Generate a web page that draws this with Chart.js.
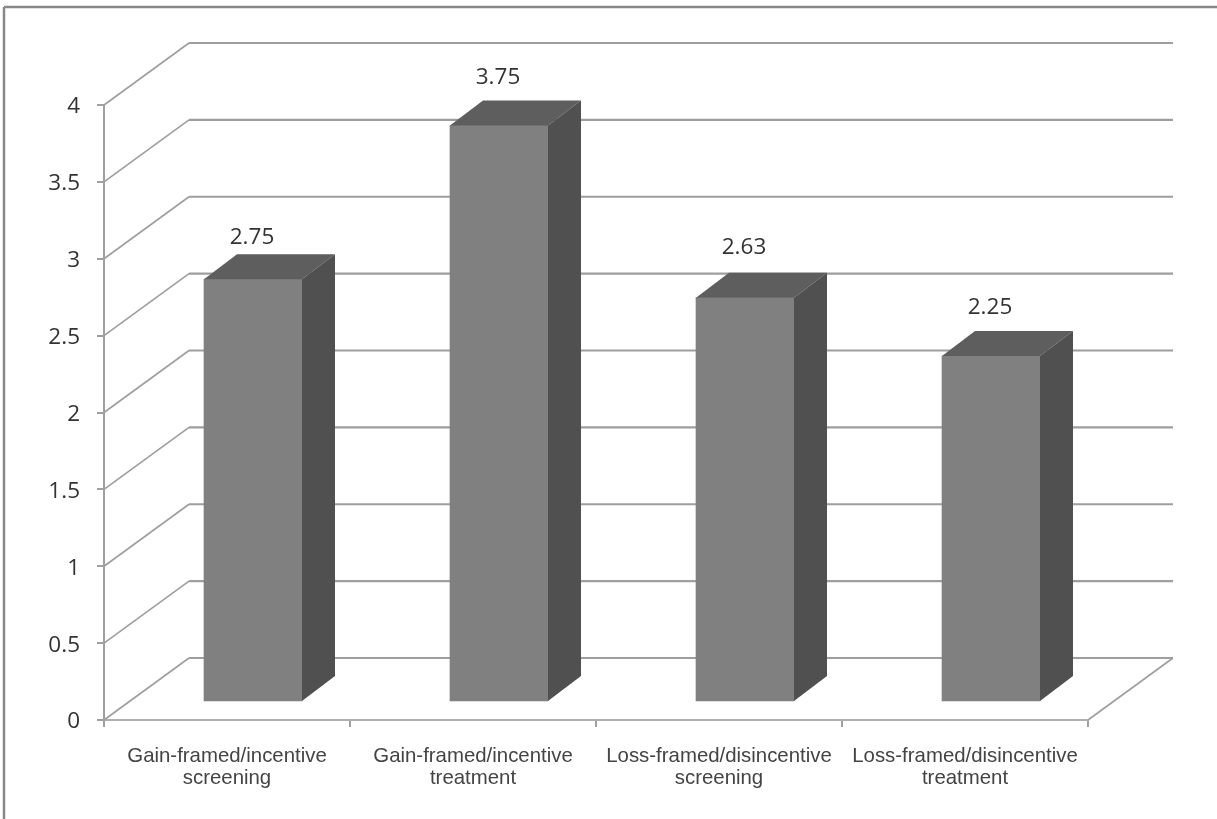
<!DOCTYPE html>
<html>
<head>
<meta charset="utf-8">
<title>Bar chart</title>
<script src="https://cdn.jsdelivr.net/npm/chart.js@4"></script>
<style>
  body { margin: 0; background: #fff; }
  canvas { display: block; }
</style>
</head>
<body>
<canvas id="chart" width="1217" height="819"></canvas>
<script>
var categories = [
    ["Gain-framed/incentive", "screening"],
    ["Gain-framed/incentive", "treatment"],
    ["Loss-framed/disincentive", "screening"],
    ["Loss-framed/disincentive", "treatment"]
];
var values = [2.75, 3.75, 2.63, 2.25];
var valueLabels = ["2.75", "3.75", "2.63", "2.25"];
var axisTicks = [0, 0.5, 1, 1.5, 2, 2.5, 3, 3.5, 4];

// pseudo 3d depth, in pixels
const WALL_DX = 85, WALL_DY = 62;
const BAR_SHIFT_X = 26, BAR_SHIFT_Y = 18;
const BAR_DX = 33, BAR_DY = 25;
const LABEL_LIFT = [42, 48, 50, 48];

function line(ctx, x1, y1, x2, y2) {
    ctx.beginPath();
    ctx.moveTo(x1, y1);
    ctx.lineTo(x2, y2);
    ctx.stroke();
}

function face(ctx, points, color) {
    ctx.fillStyle = color;
    ctx.beginPath();
    ctx.moveTo(points[0][0], points[0][1]);
    for (var p of points.slice(1)) {
        ctx.lineTo(p[0], p[1]);
    }
    ctx.closePath();
    ctx.fill();
}

const box3d = {
    id: 'box3d',
    beforeDraw(chart) {
        const ctx = chart.ctx;
        ctx.save();
        ctx.fillStyle = '#ffffff';
        ctx.fillRect(0, 0, chart.width, chart.height);
        // outer frame, only top and left show
        ctx.strokeStyle = '#888888';
        ctx.lineWidth = 2.5;
        line(ctx, 4, chart.height, 4, 7);
        line(ctx, 4, 7, chart.width, 7);
        ctx.restore();
    },
    beforeDatasetsDraw(chart) {
        const ctx = chart.ctx;
        const area = chart.chartArea;
        const y = chart.scales.y;
        ctx.save();
        ctx.strokeStyle = '#9e9e9e';
        for (var v of axisTicks) {
            const py = y.getPixelForValue(v);
            ctx.lineWidth = 1.6;
            line(ctx, area.left, py, area.left + WALL_DX, py - WALL_DY);
            ctx.lineWidth = 2.2;
            line(ctx, area.left + WALL_DX, py - WALL_DY, area.right + WALL_DX, py - WALL_DY);
        }
        // right edge of the floor
        ctx.lineWidth = 1.6;
        line(ctx, area.right, area.bottom, area.right + WALL_DX, area.bottom - WALL_DY);
        ctx.restore();

        // bars sit part way back on the floor
        ctx.save();
        ctx.translate(BAR_SHIFT_X, -BAR_SHIFT_Y);
    },
    afterDatasetsDraw(chart) {
        const ctx = chart.ctx;
        ctx.restore();
        ctx.save();
        chart.getDatasetMeta(0).data.forEach(function (bar, i) {
            const left = bar.x - bar.width / 2 + BAR_SHIFT_X;
            const right = bar.x + bar.width / 2 + BAR_SHIFT_X;
            const top = bar.y - BAR_SHIFT_Y;
            const bottom = bar.base - BAR_SHIFT_Y;
            face(ctx, [[left, top], [right, top], [right + BAR_DX, top - BAR_DY], [left + BAR_DX, top - BAR_DY]], '#5e5e5e');
            face(ctx, [[right, top], [right + BAR_DX, top - BAR_DY], [right + BAR_DX, bottom - BAR_DY], [right, bottom]], '#505050');

            ctx.fillStyle = '#333333';
            ctx.font = '22.5px "Open Sans"';
            ctx.textAlign = 'center';
            ctx.textBaseline = 'middle';
            ctx.fillText(valueLabels[i], (left + right) / 2 - 1, top - LABEL_LIFT[i]);
        });
        ctx.restore();
    }
};

new Chart(document.getElementById('chart'), {
    type: 'bar',
    data: {
        labels: categories,
        datasets: [{
            data: values,
            backgroundColor: '#808080',
            barThickness: 98,
            clip: false
        }]
    },
    options: {
        responsive: false,
        animation: false,
        layout: { padding: { top: 105, right: 129, left: 0, bottom: 0 } },
        plugins: { legend: { display: false }, tooltip: { enabled: false } },
        scales: {
            x: {
                afterFit(scale) { scale.height = 99; },
                grid: { drawOnChartArea: false, color: '#a0a0a0', lineWidth: 2, tickLength: 7 },
                border: { color: '#b0b0b0', width: 2 },
                ticks: {
                    color: '#444444',
                    font: { family: '"Liberation Sans"', size: 20.4, lineHeight: 1.08 },
                    padding: 18,
                    maxRotation: 0,
                    autoSkip: false
                }
            },
            y: {
                min: 0,
                max: 4,
                afterFit(scale) { scale.width = 104; },
                grid: { drawOnChartArea: false, color: '#a0a0a0', lineWidth: 2, tickLength: 7 },
                border: { color: '#a0a0a0', width: 2 },
                ticks: {
                    color: '#333333',
                    font: { family: '"Open Sans"', size: 22.5 },
                    padding: 17,
                    stepSize: 0.5,
                    labelOffset: 2,
                    callback: function (value) { return String(value); }
                }
            }
        }
    },
    plugins: [box3d]
});
</script>
</body>
</html>
